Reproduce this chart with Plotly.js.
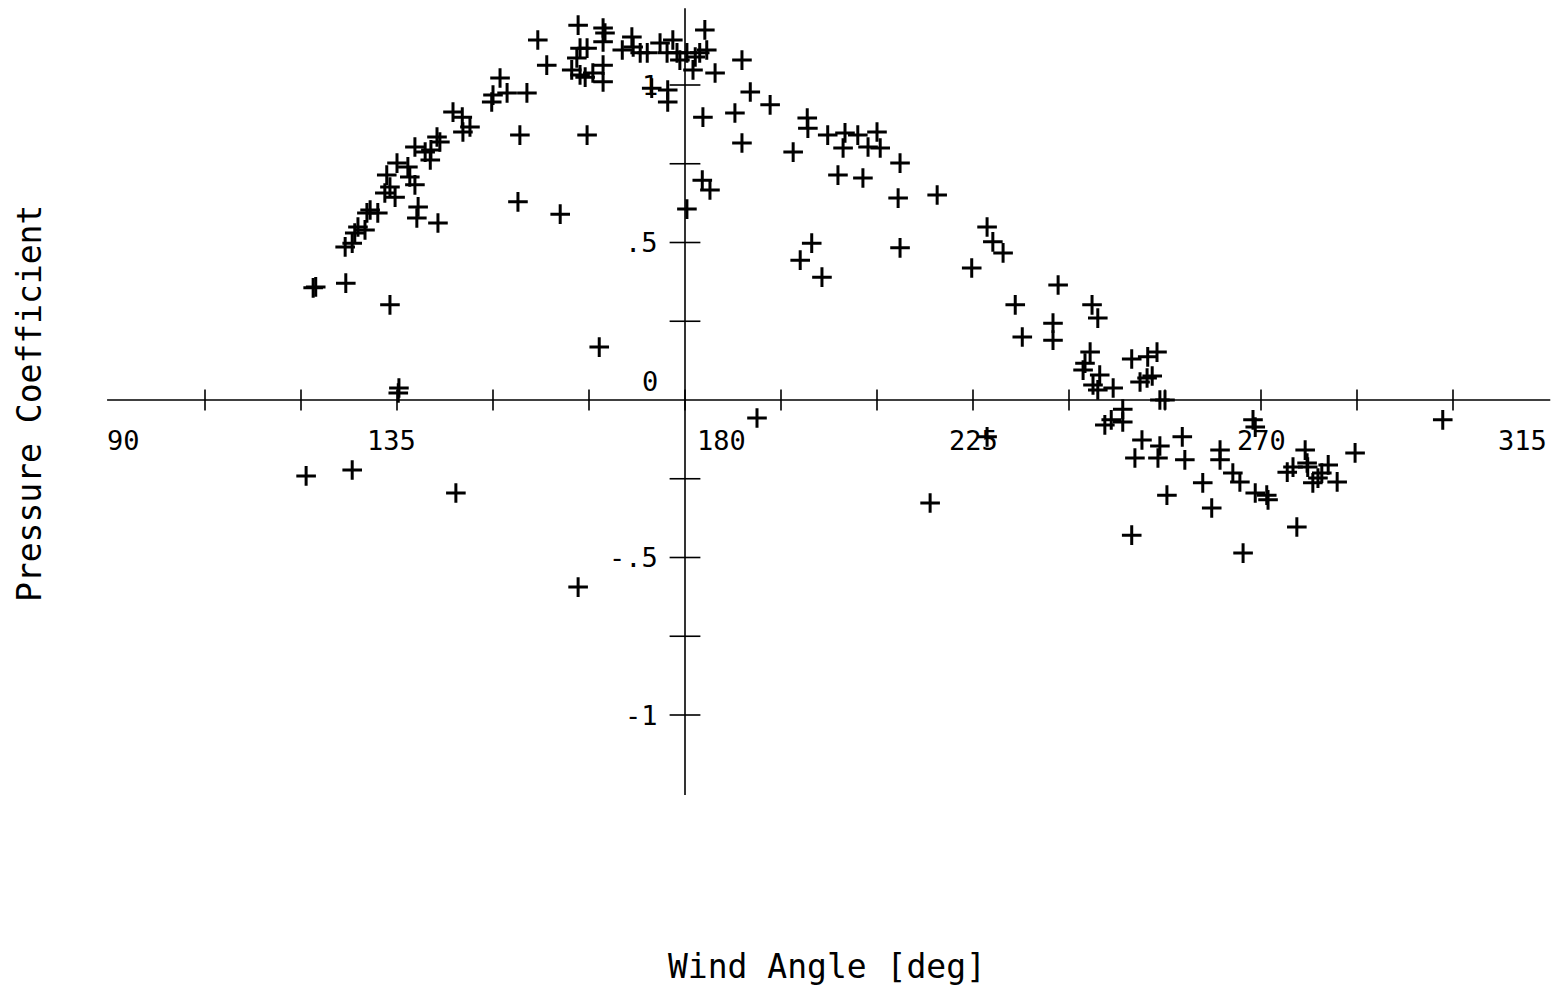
<!DOCTYPE html>
<html>
<head>
<meta charset="utf-8">
<script src="https://cdn.plot.ly/plotly-3.0.1.min.js"></script>
<style>html,body{margin:0;padding:0;background:#fff;}#chart{width:1555px;height:988px;}</style>
</head>
<body>
<div id="chart"></div>
<script>
// Wind angle [deg]
const windAngle = [
  120.8, 128.0, 144.2, 121.9, 122.3, 127.0, 133.9, 135.3, 135.2, 163.3,
  166.6, 160.5, 153.9, 154.2, 164.7, 126.9, 128.0, 128.4, 128.9, 130.0,
  130.3, 130.8, 132.0, 133.1, 133.9, 134.7, 135.0, 133.4, 136.7, 137.0,
  137.8, 138.3, 138.1, 141.4, 137.8, 139.4, 140.2, 141.25, 141.7, 140.3,
  143.75, 145.2, 145.3, 146.4, 149.8, 150.0, 152.2, 155.3, 151.1, 157.0,
  158.4, 163.3, 167.2, 167.5, 167.2, 163.6, 164.7, 163.1, 162.3, 163.6,
  164.4, 165.6, 167.2, 167.2, 170.2, 171.7, 171.9, 173.0, 174.1, 176.1,
  177.2, 178.1, 178.75, 179.2, 180.3, 181.6, 181.25, 182.3, 183.4, 183.1,
  184.7, 174.8, 177.3, 177.3, 182.8, 182.7, 183.9, 180.3, 188.9, 190.2,
  193.3, 187.8, 188.9, 196.9, 199.1, 199.2, 202.3, 205.0, 207.0, 210.0,
  204.7, 208.6, 210.5, 213.6, 203.9, 207.8, 213.3, 219.4, 199.8, 198.0,
  201.4, 213.6, 227.2, 228.1, 229.7, 224.8, 238.3, 231.6, 232.7, 237.5,
  237.5, 243.6, 244.5, 243.3, 242.5, 242.2, 244.8, 243.75, 244.5, 246.9,
  249.8, 252.3, 253.75, 251.1, 252.2, 253.0, 254.2, 255.0, 248.4, 248.4,
  245.6, 246.6, 251.4, 250.3, 254.2, 253.9, 255.3, 218.3, 227.2, 257.7,
  258.1, 249.8, 260.9, 262.3, 263.6, 263.6, 268.75, 269.1, 265.6, 266.7,
  269.1, 270.9, 271.1, 267.2, 275.6, 274.1, 275.0, 276.9, 277.2, 277.3,
  278.1, 278.9, 279.5, 280.5, 281.9, 284.7, 298.4, 191.25
];
// Pressure coefficient
const pressureCoef = [
  -0.241, -0.222, -0.295, 0.356, 0.359, 0.371, 0.302, 0.038, 0.022, -0.594,
  0.168, 0.590, 0.629, 0.841, 0.841, 0.486, 0.498, 0.530, 0.549, 0.540,
  0.594, 0.603, 0.594, 0.657, 0.676, 0.644, 0.752, 0.714, 0.740, 0.708,
  0.683, 0.613, 0.578, 0.562, 0.803, 0.787, 0.762, 0.835, 0.819, 0.794,
  0.914, 0.898, 0.851, 0.867, 0.946, 0.968, 0.975, 0.975, 1.022, 1.143,
  1.063, 1.190, 1.181, 1.165, 1.137, 1.117, 1.117, 1.086, 1.048, 1.032,
  1.025, 1.038, 1.063, 1.010, 1.111, 1.152, 1.121, 1.102, 1.102, 1.133,
  1.102, 1.143, 1.102, 1.079, 1.102, 1.089, 1.048, 1.102, 1.111, 1.175,
  1.038, 0.990, 0.984, 0.946, 0.898, 0.698, 0.667, 0.606, 1.079, 0.978,
  0.937, 0.911, 0.816, 0.787, 0.895, 0.863, 0.841, 0.848, 0.841, 0.851,
  0.800, 0.803, 0.800, 0.752, 0.714, 0.705, 0.641, 0.651, 0.498, 0.444,
  0.390, 0.483, 0.549, 0.502, 0.467, 0.419, 0.365, 0.302, 0.200, 0.244,
  0.190, 0.302, 0.260, 0.152, 0.117, 0.095, 0.079, 0.048, 0.032, 0.038,
  0.130, 0.137, 0.152, 0.057, 0.070, 0.076, 0.000, 0.000, -0.029, -0.070,
  -0.079, -0.063, -0.127, -0.184, -0.146, -0.184, -0.302, -0.327, -0.117, -0.117,
  -0.190, -0.429, -0.263, -0.343, -0.159, -0.190, -0.063, -0.086, -0.232, -0.260,
  -0.295, -0.302, -0.317, -0.486, -0.403, -0.229, -0.213, -0.159, -0.200, -0.213,
  -0.263, -0.248, -0.232, -0.206, -0.260, -0.168, -0.063, -0.057
];

// Axis ticks and labels
const xTickVals = [105, 120, 135, 150, 165, 180, 195, 210, 225, 240, 255, 270, 285, 300];
const xLabelVals = [90, 135, 180, 225, 270, 315];
const xLabelText = ['90', '135', '180', '225', '270', '315'];
const yTickVals = [-1, -0.75, -0.5, -0.25, 0.25, 0.5, 0.75, 1];
const yLabelVals = [-1, -0.5, 0, 0.5, 1];
const yLabelText = ['-1', '-.5', '0', '.5', '1'];

const FONT = 'DejaVu Sans Mono, Liberation Mono, monospace';
const XCROSS = 180, YCROSS = 0;

const traces = [
  {
    type: 'scatter', mode: 'markers',
    x: xTickVals, y: xTickVals.map(() => YCROSS),
    marker: {symbol: 'line-ns', size: 15, line: {color: '#000', width: 1.6}},
    hoverinfo: 'skip', showlegend: false
  },
  {
    type: 'scatter', mode: 'markers',
    x: yTickVals.map(() => XCROSS), y: yTickVals,
    marker: {symbol: 'line-ew', size: 22, line: {color: '#000', width: 1.6}},
    hoverinfo: 'skip', showlegend: false
  },
  {
    type: 'scatter', mode: 'markers',
    x: windAngle, y: pressureCoef,
    marker: {symbol: 'cross-thin', size: 14, color: '#000', line: {color: '#000', width: 3}},
    showlegend: false
  }
];

const annotations = [];
xLabelVals.forEach((v, i) => {
  let anchor = 'center', shift = 0;
  if (v === 90) { anchor = 'left'; shift = -4; }
  else if (v === 315) { anchor = 'right'; shift = 0; }
  else if (v === XCROSS) { anchor = 'left'; shift = 10; }
  else if (v === 135) { shift = -6; }
  annotations.push({
    x: v, y: YCROSS, xref: 'x', yref: 'y', text: xLabelText[i], showarrow: false,
    xanchor: anchor, yanchor: 'middle', xshift: shift, yshift: -40,
    font: {family: FONT, size: 27, color: '#000'}
  });
});
yLabelVals.forEach((v, i) => {
  annotations.push({
    x: XCROSS, y: v, xref: 'x', yref: 'y', text: yLabelText[i], showarrow: false,
    xanchor: 'right', yanchor: 'middle', xshift: -25, yshift: v === 0 ? 19 : 0,
    font: {family: FONT, size: 27, color: '#000'}
  });
});
annotations.push({
  x: 827 / 1555, y: 1 - 966 / 988, xref: 'paper', yref: 'paper', text: 'Wind Angle [deg]', showarrow: false,
  xanchor: 'center', yanchor: 'middle', font: {family: FONT, size: 33, color: '#000'}
});
annotations.push({
  x: 29 / 1555, y: 1 - 404 / 988, xref: 'paper', yref: 'paper', text: 'Pressure Coefficient', showarrow: false,
  textangle: -90, xanchor: 'center', yanchor: 'middle', font: {family: FONT, size: 33, color: '#000'}
});

const layout = {
  width: 1555, height: 988,
  margin: {l: 0, r: 0, t: 0, b: 0},
  paper_bgcolor: '#fff', plot_bgcolor: '#fff',
  xaxis: {range: [180 - 685 / 6.4, 180 + 870 / 6.4], visible: false, fixedrange: true},
  yaxis: {range: [(400 - 988) / 315, 400 / 315], visible: false, fixedrange: true},
  shapes: [
    {type: 'line', xref: 'x', yref: 'y', x0: 89.7, x1: 315.2, y0: YCROSS, y1: YCROSS, line: {color: '#000', width: 1.6}},
    {type: 'line', xref: 'x', yref: 'y', x0: XCROSS, x1: XCROSS, y0: -1.254, y1: 1.244, line: {color: '#000', width: 1.6}}
  ],
  annotations: annotations
};

Plotly.newPlot('chart', traces, layout, {displayModeBar: false, staticPlot: true});
</script>
</body>
</html>
